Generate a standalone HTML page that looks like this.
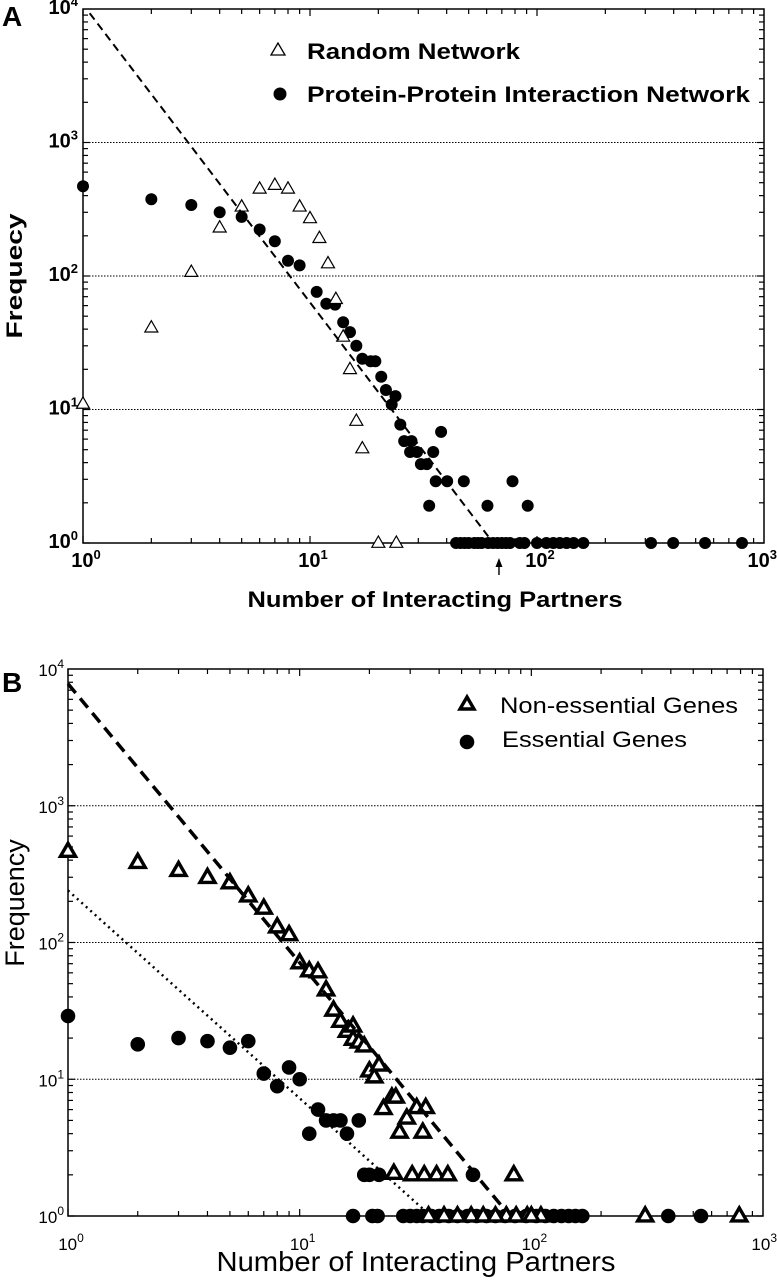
<!DOCTYPE html>
<html><head><meta charset="utf-8">
<style>
html,body{margin:0;padding:0;background:#fff;}
svg{display:block;font-family:"Liberation Sans",Arial,sans-serif;}
</style></head>
<body>
<svg id="fig" width="777" height="1280" viewBox="0 0 777 1280" xmlns="http://www.w3.org/2000/svg"></svg>
<script>
// ---- Panel A data ----
const aRandX = [1,2,3,4,5,6,7,8,9,10,11,12,13,14,15,16,17,20,24];
const aRandY = [11,41,107,230,330,450,480,450,330,270,192,124,67,35,20,8.2,5.1,1,1];
const aPpiX = [1,2,3,4,5,6,7,8,9,10.7,11.8,12.9,14,15,16,17,18.5,19.4,20.6,21.6,23.8,22.9,25,26,28,27.6,29.6,30.8,32.7,34.9,37.8,35.8,40.2,47.6,33.5,60.5,78,91,
  44,46,48,50,53,55,57,61,64,67,70,73,76,84,88,100,110,118,126,135,145,160,318,398,550,800];
const aPpiY = [470,376,340,300,277,223,182,130,120,76,62,61,45,38,30,24,23,23,17.6,14,12.6,10.9,7.7,5.8,5.8,4.8,4.8,3.9,3.9,4.8,6.8,2.9,2.9,2.9,1.9,1.9,2.9,1.9,
  1,1,1,1,1,1,1,1,1,1,1,1,1,1,1,1,1,1,1,1,1,1,1,1,1,1];
const aFit = {x:[1.07,61], y:[9300,1.12]};
const aArrowX = 68;
// ---- Panel B data ----
const bNonX = [1,2,3,4,5,6,7,8,9,10,11,12,13,14,15,16,17,17,18,19,20,21,22,23,25,26,27,29,32,35,34,25.5,30.6,34.5,39,43.6,84,
  78,96,110,310,790,36,42,48,55,62,70,86,100];
const bNonY = [464,385,336,299,273,219,178,130,114,71,62,61,45,32,26.5,22.4,24.5,19.6,18.7,17.5,11.5,10.4,12.7,6.1,7.4,7.4,4.1,5.2,6.2,6.2,4.1,2.05,2,2,2,2,2,
  1,1,1,1,1,1,1,1,1,1,1,1,1];
const bEssX = [1,2,3,4,5,6,7,8,9,10,11,12,13,14,15,16,18,19,20,22,56,17,20.6,21.7,
  28,30,32,34,37,40,44,48,53,58,64,70,77,85,95,105,115,125,135,145,155,166,390,540];
const bEssY = [29,18,20,19,17,19,11,8.9,12.2,10,4,6,5,5,5,4,5,2,2,2,2,1,1,1,
  1,1,1,1,1,1,1,1,1,1,1,1,1,1,1,1,1,1,1,1,1,1,1,1];
const bFit1 = {x:[1,74], y:[7800,1.2]};
const bFit2 = {x:[1,34.6], y:[240,1.1]};
const xTicks = [0,1,2,3];
const yTicks = [0,1,2,3,4];

const NS = "http://www.w3.org/2000/svg";
const svg = document.getElementById('fig');
function el(tag, attrs, parent){
  const e = document.createElementNS(NS, tag);
  for (const k in attrs) e.setAttribute(k, attrs[k]);
  (parent||svg).appendChild(e);
  return e;
}
function makeAxes(P){
  P.sx = v => P.x0 + Math.log10(v)/3*(P.x1-P.x0);
  P.sy = v => P.y1 - Math.log10(v)/4*(P.y1-P.y0);
}
const A = {x0:83,x1:764,y0:9,y1:543,bold:true,tickBase:567};
const B = {x0:68,x1:763,y0:669,y1:1216,bold:false,tickBase:1250};
makeAxes(A); makeAxes(B);

function frame(P, name){
  const g = el('g',{});
  
  
  [1,2,3].forEach(d=>{
    const y = P.sy(Math.pow(10,d));
    const l = el('line',{x1:P.x0,x2:P.x1,y1:y,y2:y,stroke:'#000','stroke-width':1,'stroke-dasharray':'1.5,1.5'},g);
    
    
  });
  const r = el('rect',{x:P.x0,y:P.y0,width:P.x1-P.x0,height:P.y1-P.y0,fill:'none',stroke:'#000','stroke-width':1.5},g);
  
  
  for (let d=0; d<3; d++) for (let m=1; m<=9; m++){
    const x = P.sx(m*Math.pow(10,d)); const len = m===1?7:5;
    el('line',{x1:x,x2:x,y1:P.y1,y2:P.y1-len,stroke:'#000','stroke-width':1.2},g);
    el('line',{x1:x,x2:x,y1:P.y0,y2:P.y0+len,stroke:'#000','stroke-width':1.2},g);
  }
  for (let d=0; d<4; d++) for (let m=1; m<=9; m++){
    const y = P.sy(m*Math.pow(10,d)); const len = m===1?7:5;
    el('line',{x1:P.x0,x2:P.x0+len,y1:y,y2:y,stroke:'#000','stroke-width':1.2},g);
    el('line',{x1:P.x1,x2:P.x1-len,y1:y,y2:y,stroke:'#000','stroke-width':1.2},g);
  }
  const fw = P.bold?'bold':'normal';
  const fs = P.bold?20:17;
  const sup = P.bold?13:12;
  xTicks.forEach(d=>{
    const last = d===xTicks[xTicks.length-1];
    const t = el('text',{x:last?777:P.sx(Math.pow(10,d))+3,y:P.tickBase,'text-anchor':last?'end':'middle','font-size':fs,'font-weight':fw},g);
    
    
    t.innerHTML = '10<tspan dy="-8" font-size="'+sup+'">'+d+'</tspan>';
  });
  yTicks.forEach(d=>{
    const t = el('text',{x:P.x0-(P.bold?5:4),y:P.sy(Math.pow(10,d))+(P.bold?5:7),'text-anchor':'end','font-size':fs,'font-weight':fw},g);
    
    
    t.innerHTML = '10<tspan dy="-8" font-size="'+sup+'">'+d+'</tspan>';
  });
}
frame(A,'panel-a'); frame(B,'panel-b');

function tri(cx,cy,s,sw,parent){
  const h = s*0.87;
  return el('polygon',{points:`${cx},${cy-h*0.62} ${cx-s/2},${cy+h*0.38} ${cx+s/2},${cy+h*0.38}`,fill:'#fff',stroke:'#000','stroke-width':sw,'stroke-linejoin':'miter'},parent);
}
const gA = el('g',{});


aPpiX.forEach((x,i)=>{
  const c = el('circle',{cx:A.sx(x),cy:A.sy(aPpiY[i]),r:6,fill:'#000'},gA);
  
  
});
aRandX.forEach((x,i)=>{
  const t = tri(A.sx(x),A.sy(aRandY[i]),13,1.2,gA);
  
  
});
const fa = el('line',{x1:A.sx(aFit.x[0]),y1:A.sy(aFit.y[0]),x2:A.sx(aFit.x[1]),y2:A.sy(aFit.y[1]),stroke:'#000','stroke-width':2,'stroke-dasharray':'8,5'},gA);


const ax = A.sx(aArrowX);
const arr = el('path',{d:`M${ax},${A.y1+32} L${ax},${A.y1+18}`,stroke:'#000','stroke-width':1.4,fill:'none'},gA);


const arrHead = el('polygon',{points:`${ax-3.5},${A.y1+24} ${ax},${A.y1+15} ${ax+3.5},${A.y1+24}`,fill:'#000'},gA);



const gB = el('g',{});


bEssX.forEach((x,i)=>{
  const c = el('circle',{cx:B.sx(x),cy:B.sy(bEssY[i]),r:7.3,fill:'#000'},gB);
  
  
});
bNonX.forEach((x,i)=>{
  const t = tri(B.sx(x),B.sy(bNonY[i]),15,3.4,gB);
  
  
});
const fb1 = el('line',{x1:B.sx(bFit1.x[0]),y1:B.sy(bFit1.y[0]),x2:B.sx(bFit1.x[1]),y2:B.sy(bFit1.y[1]),stroke:'#000','stroke-width':3.5,'stroke-dasharray':'12,7'},gB);


const fb2 = el('line',{x1:B.sx(bFit2.x[0]),y1:B.sy(bFit2.y[0]),x2:B.sx(bFit2.x[1]),y2:B.sy(bFit2.y[1]),stroke:'#000','stroke-width':2.5,'stroke-dasharray':'2,4'},gB);


</script>
<script>
const s2 = document.getElementById('fig');
s2.insertAdjacentHTML('beforeend', `
<text x="2" y="26" font-size="28" font-weight="bold">A</text>
<text x="2" y="692" font-size="28" font-weight="bold">B</text>
<g>
<polygon points="278,43 271,55 285,55" fill="#fff" stroke="#000" stroke-width="1.3"/>
<text x="307" y="59" font-size="22" font-weight="bold" textLength="213" lengthAdjust="spacingAndGlyphs">Random Network</text>
<circle cx="280" cy="94" r="6.5" fill="#000"/>
<text x="307" y="102" font-size="22" font-weight="bold" textLength="443" lengthAdjust="spacingAndGlyphs">Protein-Protein Interaction Network</text>
</g>
<text x="435" y="607" font-size="22" font-weight="bold" text-anchor="middle" textLength="375" lengthAdjust="spacingAndGlyphs">Number of Interacting Partners</text>
<text transform="translate(22,276) rotate(-90)" font-size="22" font-weight="bold" text-anchor="middle" textLength="125" lengthAdjust="spacingAndGlyphs">Frequecy</text>
<g>
<polygon points="467,697 460,709 474,709" fill="#fff" stroke="#000" stroke-width="3.4"/>
<text x="500" y="713" font-size="22" textLength="238" lengthAdjust="spacingAndGlyphs">Non-essential Genes</text>
<circle cx="467" cy="742" r="7.3" fill="#000"/>
<text x="502" y="747" font-size="22" textLength="185" lengthAdjust="spacingAndGlyphs">Essential Genes</text>
</g>
<text x="416" y="1271" font-size="28" text-anchor="middle" textLength="399" lengthAdjust="spacingAndGlyphs">Number of Interacting Partners</text>
<text transform="translate(24,903) rotate(-90)" font-size="27" text-anchor="middle">Frequency</text>
`);
</script>
</body></html>
